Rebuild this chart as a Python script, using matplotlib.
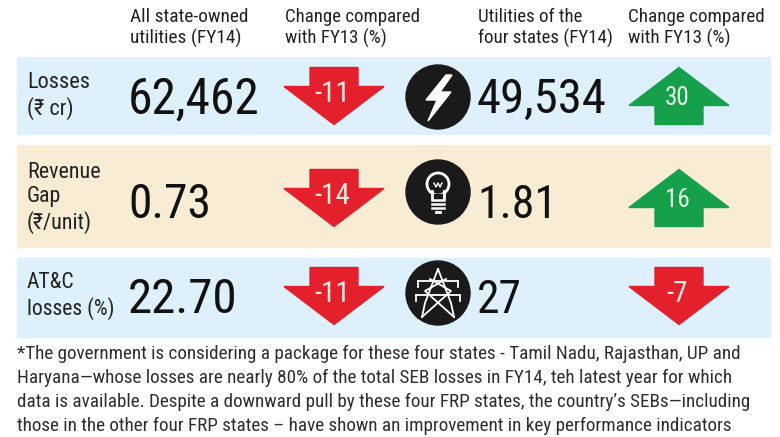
import matplotlib
matplotlib.use("Agg")
import matplotlib.pyplot as plt
from matplotlib.patches import Polygon, Circle, Rectangle
from matplotlib import font_manager as fm

# ---- data ----
metrics = ['Losses\n(₹ cr)', 'Revenue\nGap\n(₹/unit)', 'AT&C\nlosses (%)']
all_values = [62462, 0.73, 22.70]
all_fmt = ['{:,.0f}', '{:.2f}', '{:.2f}']
all_change = [-11, -14, -11]
four_values = [49534, 1.81, 27]
four_fmt = ['{:,.0f}', '{:.2f}', '{:.0f}']
four_change = [30, 16, -7]
headers = ['All state-owned\nutilities (FY14)', 'Change compared\nwith FY13 (%)',
           'Utilities of the\nfour states (FY14)', 'Change compared\nwith FY13 (%)']
footnote = ["*The government is considering a package for these four states - Tamil Nadu, Rajasthan, UP and",
            "Haryana\u2014whose losses are nearly 80% of the total SEB losses in FY14, teh latest year for which",
            "data is available. Despite a downward pull by these four FRP states, the country\u2019s SEBs\u2014including",
            "those in the other four FRP states \u2013 have shown an improvement in key performance indicators"]


# ---- pick a condensed font if one is installed ----
def find_condensed():
    prefs = ['robotocondensed-regular', 'roboto_condensed-regular', 'robotocondensed',
             'notosans-condensed.', 'notosans-condensedmedium', 'dejavusanscondensed.',
             'liberationsansnarrow-regular', 'opensans_condensed-regular', 'opensanscondensed']
    files = [f.fname for f in fm.fontManager.ttflist]
    low = [f.lower().replace(' ', '') for f in files]
    for p in prefs:
        for f, l in zip(files, low):
            name = l.rsplit('/', 1)[-1]
            if name.startswith(p) and 'italic' not in name:
                return f
    for f, l in zip(files, low):
        name = l.rsplit('/', 1)[-1]
        if ('condensed' in name or 'narrow' in name) and 'italic' not in name \
                and 'bold' not in name and 'light' not in name and 'thin' not in name:
            return f
    return None


cf = find_condensed()
if cf:
    fam = fm.FontProperties(fname=cf).get_name()
    plt.rcParams['font.family'] = [fam, 'DejaVu Sans']
else:
    plt.rcParams['font.family'] = ['DejaVu Sans']

# ---- layout ----
W, H = 780, 437
fig = plt.figure(figsize=(W / 100, H / 100), dpi=100)
ax = fig.add_axes([0, 0, 1, 1])
ax.set_xlim(0, W)
ax.set_ylim(H, 0)
ax.axis('off')
renderer = fig.canvas.get_renderer()

BLUE = '#ddf0fb'
BEIGE = '#f8edd4'
RED = '#e3202b'
GREEN = '#17a04c'
TXT = '#222222'


def fit(t, target_w, max_fs=None):
    bb = t.get_window_extent(renderer)
    fs = t.get_fontsize() * target_w / bb.width
    if max_fs is not None:
        fs = min(fs, max_fs)
    t.set_fontsize(fs)
    return t


bands = [(57, 134, BLUE), (145, 247, BEIGE), (258, 337, BLUE)]
row_cy = [96, 198, 296]
row_base = [113, 218, 313]

for y0, y1, c in bands:
    ax.add_patch(Rectangle((17, y0), 753, y1 - y0, color=c, zorder=0))

hdr_x = [130, 285, 478, 628]
hdr_w = [118, 135, 135, 137]
for x, h, w in zip(hdr_x, headers, hdr_w):
    t = ax.text(x, 28, h, fontsize=14.5, color=TXT, ha='left', va='center',
                linespacing=1.2)
    fit(t, w, 16)


def arrow(cx, cy, val, color, tcolor):
    w, hgt, sw, sl = 100, 57, 48, 19
    d = 1 if val < 0 else -1  # down for negative
    top = cy - d * hgt / 2
    pts = [(cx - sw / 2, top), (cx + sw / 2, top),
           (cx + sw / 2, top + d * sl), (cx + w / 2, top + d * sl),
           (cx, cy + d * hgt / 2), (cx - w / 2, top + d * sl),
           (cx - sw / 2, top + d * sl)]
    ax.add_patch(Polygon(pts, closed=True, color=color, zorder=2))
    t = ax.text(cx - 2, cy - d * 2, str(val), fontsize=21, color=tcolor,
                ha='center', va='center', zorder=3)
    fit(t, 37 * len(str(val)) / 3.0, 21)


def icon_bolt(cx, cy):
    pts = [(cx + 8, cy - 22), (cx - 12, cy + 3), (cx - 1, cy + 3),
           (cx - 10, cy + 24), (cx + 13, cy - 5), (cx + 2, cy - 5), (cx + 14, cy - 22)]
    ax.add_patch(Polygon(pts, closed=True, color='white', zorder=4))


def icon_bulb(cx, cy):
    ax.add_patch(Circle((cx, cy - 8), 11, fill=False, ec='white', lw=2, zorder=4))
    ax.add_patch(Rectangle((cx - 6, cy + 2), 12, 6, color='#1a1a1a', zorder=4))
    ax.plot([cx - 6, cx - 6], [cy - 1, cy + 6], color='white', lw=2, zorder=5)
    ax.plot([cx + 6, cx + 6], [cy - 1, cy + 6], color='white', lw=2, zorder=5)
    for yy in (cy + 8, cy + 12, cy + 16):
        ax.plot([cx - 6, cx + 6], [yy, yy], color='white', lw=1.8, zorder=5)
    ax.plot([cx - 2, cx + 2], [cy + 20, cy + 20], color='white', lw=2, zorder=5)
    ax.plot([cx - 4, cx - 2, cx, cx + 2, cx + 4], [cy - 9, cy - 5, cy - 9, cy - 5, cy - 9],
            color='white', lw=1, zorder=5)


def icon_pylon(cx, cy):
    kw = dict(color='white', lw=1.3, zorder=5)
    ax.plot([cx, cx - 13, cx - 16], [cy - 24, cy + 10, cy + 24], **kw)
    ax.plot([cx, cx + 13, cx + 16], [cy - 24, cy + 10, cy + 24], **kw)
    ax.plot([cx - 16, cx + 13, cx - 8], [cy + 24, cy - 2, cy - 14], **kw)
    ax.plot([cx + 16, cx - 13, cx + 8], [cy + 24, cy - 2, cy - 14], **kw)
    for yy, hw in ((cy - 12, 20), (cy + 2, 22)):
        ax.plot([cx - hw, cx + hw], [yy, yy], **kw)
        ax.plot([cx - hw, cx - hw], [yy, yy + 6], **kw)
        ax.plot([cx + hw, cx + hw], [yy, yy + 6], **kw)


icons = [icon_bolt, icon_bulb, icon_pylon]
icon_cy = [97, 192, 293]
lab_w = [74, 73, 88]
all_w = [132, 83, 110]
four_w = [130, 80, 45]

for i in range(3):
    cy = row_cy[i]
    t = ax.text(27, cy, metrics[i], fontsize=14.5, color=TXT, ha='left', va='center',
                linespacing=1.2)
    fit(t, lab_w[i], 16)
    t = ax.text(128, row_base[i], all_fmt[i].format(all_values[i]), fontsize=40,
                color='#111111', ha='left', va='baseline')
    fit(t, all_w[i], 44)
    c = all_change[i]
    arrow(334, cy, c, RED if c < 0 else GREEN, '#ffe8e0' if c < 0 else '#e4f7e6')
    ax.add_patch(Circle((438, icon_cy[i]), 32, color='#1a1a1a', zorder=3))
    icons[i](438, icon_cy[i])
    t = ax.text(477, row_base[i], four_fmt[i].format(four_values[i]), fontsize=40,
                color='#111111', ha='left', va='baseline')
    fit(t, four_w[i], 44)
    c = four_change[i]
    arrow(679, cy, c, RED if c < 0 else GREEN, '#ffe8e0' if c < 0 else '#e4f7e6')

foot_w = [725, 720, 738, 715]
fts = []
for j, line in enumerate(footnote):
    t = ax.text(17, 354 + j * 24, line, fontsize=13, color='#2e2e2e', ha='left',
                va='center')
    fit(t, foot_w[j])
    fts.append(t)
fsz = min(t.get_fontsize() for t in fts)
for t in fts:
    t.set_fontsize(fsz)

fig.savefig('out.png', dpi=100)
